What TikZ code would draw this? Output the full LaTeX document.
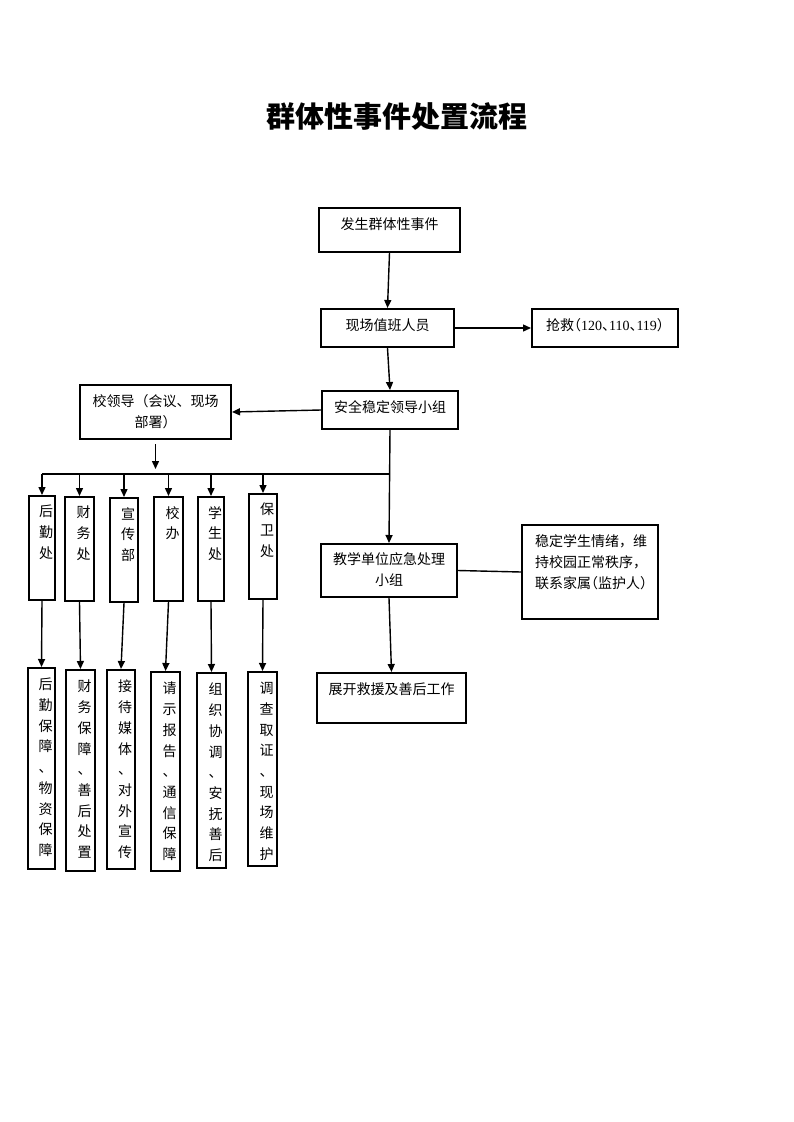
\documentclass[tikz,border=0pt]{standalone}
\usepackage{fontspec}
\setmainfont{Noto Sans CJK SC}
\newfontfamily\cjkhalf{Noto Sans CJK SC}[RawFeature=+halt]
\newfontfamily\latinserif{Liberation Serif}
\usetikzlibrary{arrows.meta}
\begin{document}
\begin{tikzpicture}[x=1pt,y=-1pt,
  box/.style={draw,line width=2pt,inner sep=0pt},
  txt/.style={inner sep=0pt,font=\fontsize{14}{21}\selectfont,align=center},
  vtxt/.style={inner sep=0pt,font=\fontsize{14}{20.7}\selectfont,align=center,anchor=north},
  ln/.style={line width=1.4pt},
  arr/.style={line width=1.4pt,-{Triangle[length=8pt,width=7pt]}}]
\useasboundingbox[fill=white] (0,0) rectangle (793,1122);

% title
\node[inner sep=0pt,font=\fontsize{29}{34}\selectfont\bfseries] (title) at (396.5,117) {群体性事件处置流程};

% main boxes
\node[box,minimum width=141pt,minimum height=44pt] (fasheng) at (389.5,230) {};
\node[box,minimum width=133pt,minimum height=38pt] (xianchang) at (387.5,328) {};
\node[box,minimum width=146pt,minimum height=38pt] (qiangjiu) at (605,328) {};
\node[box,minimum width=136pt,minimum height=38pt] (anquan) at (390,410) {};
\node[box,minimum width=151pt,minimum height=54pt] (xiaoling) at (155.5,412) {};
\node[box,minimum width=136pt,minimum height=53pt] (jiaoxue) at (389,570.5) {};
\node[box,minimum width=136pt,minimum height=94pt] (wending) at (590,572) {};
\node[box,minimum width=149pt,minimum height=50pt] (zhankai) at (391.5,698) {};

\node[txt] (t-fasheng) at (389.5,224) {发生群体性事件};
\node[txt] (t-xianchang) at (387.5,325) {现场值班人员};
\node[txt] (t-qiangjiu) at (605,325) {抢救{\cjkhalf （}{\latinserif 120}{\cjkhalf 、}{\latinserif 110}{\cjkhalf 、}{\latinserif 119}{\cjkhalf ）}};
\node[txt] (t-anquan) at (390,407) {安全稳定领导小组};
\node[txt] (t-xiaoling) at (155.5,411.5) {校领导（会议、现场\\部署）};
\node[txt] (t-jiaoxue) at (389,570) {教学单位应急处理\\小组};
\node[txt,align=left] (t-wending) at (591,562) {稳定学生情绪，维\\持校园正常秩序，\\联系家属{\cjkhalf （}监护人{\cjkhalf ）}};
\node[txt] (t-zhankai) at (391.5,689) {展开救援及善后工作};

% top row of small boxes
\node[box,minimum width=26pt,minimum height=104pt] (hq1) at (42,548) {};
\node[box,minimum width=29pt,minimum height=104pt] (cw1) at (79.5,549) {};
\node[box,minimum width=28pt,minimum height=104pt] (xc1) at (124,550) {};
\node[box,minimum width=29pt,minimum height=104pt] (xb1) at (168.5,549) {};
\node[box,minimum width=26pt,minimum height=104pt] (xs1) at (211,549) {};
\node[box,minimum width=28pt,minimum height=105pt] (bw1) at (263,546.5) {};

\node[vtxt] (t-hq1) at ([shift={(4,10)}]hq1.north) {后\\勤\\处};
\node[vtxt] (t-cw1) at ([shift={(4,10)}]cw1.north) {财\\务\\处};
\node[vtxt] (t-xc1) at ([shift={(4,10)}]xc1.north) {宣\\传\\部};
\node[vtxt] (t-xb1) at ([shift={(4,10)}]xb1.north) {校\\办};
\node[vtxt] (t-xs1) at ([shift={(4,10)}]xs1.north) {学\\生\\处};
\node[vtxt] (t-bw1) at ([shift={(4,10)}]bw1.north) {保\\卫\\处};

% bottom row of small boxes
\node[box,minimum width=27pt,minimum height=201pt] (hq2) at (41.5,768.5) {};
\node[box,minimum width=29pt,minimum height=201pt] (cw2) at (80.5,770.5) {};
\node[box,minimum width=28pt,minimum height=199pt] (jd2) at (121,769.5) {};
\node[box,minimum width=29pt,minimum height=199pt] (qs2) at (165.5,771.5) {};
\node[box,minimum width=29pt,minimum height=195pt] (zz2) at (211.5,770.5) {};
\node[box,minimum width=29pt,minimum height=194pt] (dc2) at (262.5,769) {};

\node[vtxt] (t-hq2) at ([shift={(4,11)}]hq2.north) {后\\勤\\保\\障\\、\\物\\资\\保\\障};
\node[vtxt] (t-cw2) at ([shift={(4,11)}]cw2.north) {财\\务\\保\\障\\、\\善\\后\\处\\置};
\node[vtxt] (t-jd2) at ([shift={(4,11)}]jd2.north) {接\\待\\媒\\体\\、\\对\\外\\宣\\传};
\node[vtxt] (t-qs2) at ([shift={(4,11)}]qs2.north) {请\\示\\报\\告\\、\\通\\信\\保\\障};
\node[vtxt] (t-zz2) at ([shift={(4,11)}]zz2.north) {组\\织\\协\\调\\、\\安\\抚\\善\\后};
\node[vtxt] (t-dc2) at ([shift={(4,11)}]dc2.north) {调\\查\\取\\证\\、\\现\\场\\维\\护};

% connectors
\draw[arr] (fasheng.south) -- (xianchang.north);
\draw[arr] (xianchang.east) -- (qiangjiu.west);
\draw[arr] (xianchang.south) -- (anquan.north);
\draw[arr] (anquan.west) -- (xiaoling.east);
\coordinate (xlEnd) at (155.5,469);
\draw[arr] ([yshift=-4pt]xiaoling.south) -- (xlEnd);
\draw[arr] (anquan.south) -- (jiaoxue.north);
\coordinate (busR) at (389.5,474);
\coordinate (busL) at (42,474);
\draw[ln] (busR) -- (busL);
\draw[arr] (busL) -- (hq1.north);
\draw[arr] (cw1.north |- busL) -- (cw1.north);
\draw[arr] (xc1.north |- busL) -- (xc1.north);
\draw[arr] (xb1.north |- busL) -- (xb1.north);
\draw[arr] (xs1.north |- busL) -- (xs1.north);
\draw[arr] (bw1.north |- busL) -- (bw1.north);
\draw[arr] (hq1.south) -- (hq2.north);
\draw[arr] (cw1.south) -- (cw2.north);
\draw[arr] (xc1.south) -- (jd2.north);
\draw[arr] (xb1.south) -- (qs2.north);
\draw[arr] (xs1.south) -- (zz2.north);
\draw[arr] (bw1.south) -- (dc2.north);
\draw[arr] (jiaoxue.south) -- (zhankai.north);
\draw[ln] (jiaoxue.east) -- (wending.west);
\end{tikzpicture}
\end{document}
